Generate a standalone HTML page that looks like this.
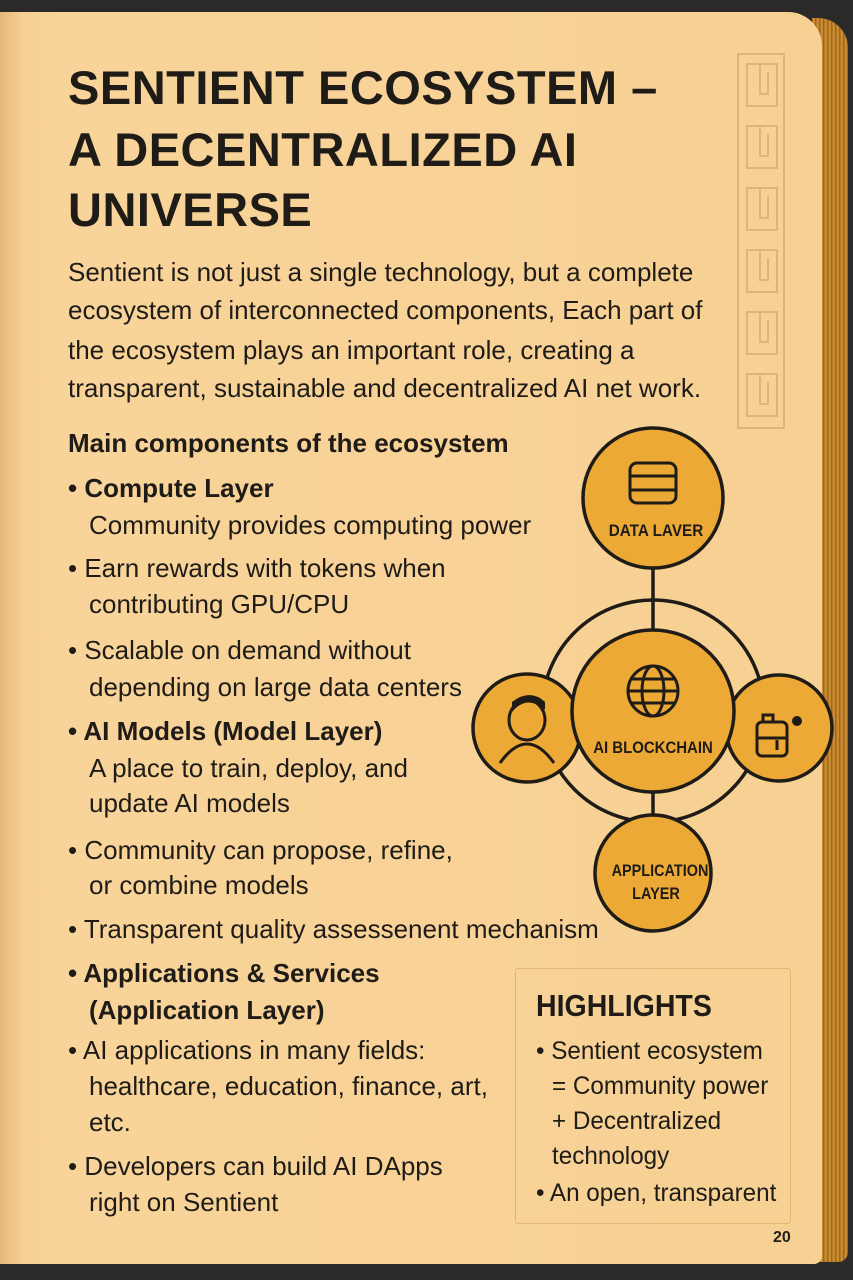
<!DOCTYPE html>
<html><head><meta charset="utf-8"><style>
html,body{margin:0;padding:0}
body{width:853px;height:1280px;background:#2c2a28;position:relative;overflow:hidden;font-family:"Liberation Sans",sans-serif;color:#1f1c18}
.page{position:absolute;left:0;top:12px;width:822px;height:1252px;background:linear-gradient(90deg,#e6b878 0,#f6cf92 22px,#f8d49a 60px,#f7d093 100%);border-radius:0 34px 8px 0}
.edge{position:absolute;left:812px;top:18px;width:36px;height:1244px;border-radius:0 30px 10px 0;background:repeating-linear-gradient(90deg,#a86c1c 0,#d99a3a 2px,#8a5516 4px);}
.t{position:absolute;white-space:nowrap;line-height:1}
.h{font-weight:bold;font-size:47px;letter-spacing:0.5px;transform:scaleX(1.0);transform-origin:left}
.p{font-size:26px;transform:scaleX(1.0);transform-origin:left}
.s{font-size:25px;transform:scaleX(0.97)}
.b{font-weight:bold}
.hl{position:absolute;left:515px;top:968px;width:274px;height:254px;border:1px solid #e2b679;border-radius:3px}
</style></head><body>
<div class="edge"></div>
<div class="page"></div>
<svg style="position:absolute;left:0;top:0" width="853" height="1280">
<g fill="none" stroke="#dfb478" stroke-width="2">
<rect x="738" y="54" width="46" height="374"/>
<g id="k"><rect x="747" y="64" width="30" height="42"/><path d="M760 64v30h8v-22"/></g>
<use href="#k" y="62"/><use href="#k" y="124"/><use href="#k" y="186"/><use href="#k" y="248"/><use href="#k" y="310"/>
</g>
<g stroke="#1f1c18" stroke-width="3.5" fill="#eda935">
<line x1="653" y1="567" x2="653" y2="630"/>
<line x1="653" y1="792" x2="653" y2="815"/>
<circle cx="653" cy="711" r="111" fill="none"/>
<circle cx="653" cy="498" r="70"/>
<circle cx="527" cy="728" r="54"/>
<circle cx="779" cy="728" r="53"/>
<circle cx="653" cy="873" r="58"/>
<circle cx="653" cy="711" r="81"/>
</g>
<g stroke="#1f1c18" stroke-width="3" fill="none">
<rect x="630" y="463" width="46" height="40" rx="7"/><line x1="630" y1="476" x2="676" y2="476"/><line x1="630" y1="490" x2="676" y2="490"/>
<circle cx="653" cy="691" r="25"/><ellipse cx="653" cy="691" rx="11" ry="25"/><line x1="628" y1="691" x2="678" y2="691"/><path d="M632 679h42M632 703h42"/>
<path d="M509 720a18 20 0 1 1 36 0a18 20 0 1 1 -36 0M500 763q27 -38 54 0"/>
<rect x="757" y="722" width="30" height="34" rx="5"/><line x1="757" y1="738" x2="787" y2="738"/><path d="M763 722v-7h10v7M777 740v10"/>
</g>
<path d="M512 712q15-18 33-2v-8q-15-14-33 0z" fill="#1f1c18"/>
<circle cx="797" cy="721" r="5" fill="#1f1c18"/>
<g font-family="Liberation Sans,sans-serif" font-weight="bold" font-size="17" fill="#1f1c18" text-anchor="middle">
<text x="656" y="536" transform="translate(656 0) scale(0.9 1) translate(-656 0)">DATA LAVER</text>
<text x="653" y="753" transform="translate(653 0) scale(0.88 1) translate(-653 0)">AI BLOCKCHAIN</text>
<text x="660" y="876" transform="translate(660 0) scale(0.85 1) translate(-660 0)">APPLICATION</text>
<text x="656" y="899" transform="translate(656 0) scale(0.85 1) translate(-656 0)">LAYER</text>
</g>
</svg>
<div class="t h" style="left:68px;top:64px">SENTIENT ECOSYSTEM –</div>
<div class="t h" style="left:68px;top:126px">A DECENTRALIZED AI</div>
<div class="t h" style="left:68px;top:186px">UNIVERSE</div>
<div class="t p" style="left:68px;top:259px">Sentient is not just a single technology, but a complete</div>
<div class="t p" style="left:68px;top:297px">ecosystem of interconnected components, Each part of</div>
<div class="t p" style="left:68px;top:337px">the ecosystem plays an important role, creating a</div>
<div class="t p" style="left:68px;top:375px">transparent, sustainable and decentralized AI net work.</div>
<div class="t p b" style="left:68px;top:430px">Main components of the ecosystem</div>
<div class="t p b" style="left:68px;top:475px">• Compute Layer</div>
<div class="t p" style="left:89px;top:512px">Community provides computing power</div>
<div class="t p" style="left:68px;top:555px">• Earn rewards with tokens when</div>
<div class="t p" style="left:89px;top:591px">contributing GPU/CPU</div>
<div class="t p" style="left:68px;top:637px">• Scalable on demand without</div>
<div class="t p" style="left:89px;top:674px">depending on large data centers</div>
<div class="t p b" style="left:68px;top:718px">• AI Models (Model Layer)</div>
<div class="t p" style="left:89px;top:755px">A place to train, deploy, and</div>
<div class="t p" style="left:89px;top:790px">update AI models</div>
<div class="t p" style="left:68px;top:837px">• Community can propose, refine,</div>
<div class="t p" style="left:89px;top:872px">or combine models</div>
<div class="t p" style="left:68px;top:916px">• Transparent quality assessenent mechanism</div>
<div class="t p b" style="left:68px;top:960px">• Applications &amp; Services</div>
<div class="t p b" style="left:89px;top:997px">(Application Layer)</div>
<div class="t p" style="left:68px;top:1037px">• AI applications in many fields:</div>
<div class="t p" style="left:89px;top:1073px">healthcare, education, finance, art,</div>
<div class="t p" style="left:89px;top:1109px">etc.</div>
<div class="t p" style="left:68px;top:1153px">• Developers can build AI DApps</div>
<div class="t p" style="left:89px;top:1189px">right on Sentient</div>
<div class="hl"></div>
<div class="t b" style="left:536px;top:990px;font-size:31px;transform:scaleX(0.92);transform-origin:left">HIGHLIGHTS</div>
<div class="t p s" style="left:536px;top:1039px">• Sentient ecosystem</div>
<div class="t p s" style="left:552px;top:1074px">= Community power</div>
<div class="t p s" style="left:552px;top:1109px">+ Decentralized</div>
<div class="t p s" style="left:552px;top:1144px">technology</div>
<div class="t p s" style="left:536px;top:1181px">• An open, transparent</div>
<div class="t b" style="left:773px;top:1230px;font-size:16px">20</div>
</body></html>
